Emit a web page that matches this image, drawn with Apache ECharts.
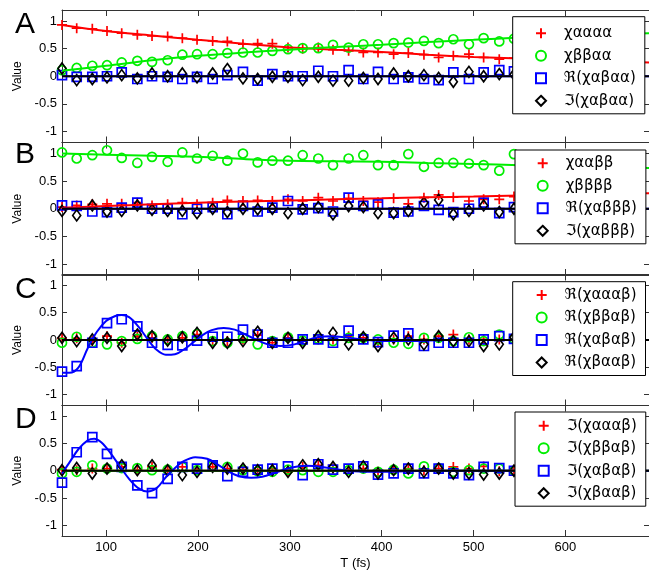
<!DOCTYPE html>
<html><head><meta charset="utf-8">
<script src="https://cdn.jsdelivr.net/npm/echarts@6/dist/echarts.min.js"></script>
<style>html,body{margin:0;padding:0;background:#fff}#c{width:649px;height:571px}</style>
</head><body><div id="c"></div>
<script>
// Time points (fs)
const T = [52, 68, 85, 101, 117, 134, 150, 167, 183, 199, 216, 232, 249, 265, 281, 298, 314, 331, 347, 364, 380, 396, 413, 429, 446, 462, 478, 495, 511, 528, 544];
const xTicks = [100, 200, 300, 400, 500, 600];
const yTicks = [-1, -0.5, 0, 0.5, 1];
const panelLetters = ['A', 'B', 'C', 'D'];

// Panel A
const namesA = ['χαααα', 'χββαα', 'ℜ(χαβαα)', 'ℑ(χαβαα)'];
const aRed   = [0.93,0.87,0.86,0.82,0.78,0.75,0.73,0.72,0.69,0.66,0.64,0.63,0.58,0.59,0.59,0.52,0.50,0.52,0.48,0.46,0.43,0.43,0.40,0.42,0.39,0.34,0.37,0.40,0.34,0.31,0.33];
const aGreen = [0.11,0.15,0.19,0.20,0.25,0.28,0.26,0.29,0.39,0.40,0.40,0.42,0.43,0.43,0.46,0.49,0.51,0.51,0.57,0.52,0.58,0.58,0.60,0.61,0.64,0.60,0.67,0.58,0.69,0.63,0.68];
const aBlue  = [0.02,-0.01,-0.01,0.00,0.07,-0.05,0.00,-0.01,-0.05,-0.01,-0.05,0.02,0.08,-0.08,0.04,0.00,0.00,0.10,0.00,0.11,-0.05,0.08,-0.05,-0.02,-0.05,-0.07,0.07,-0.05,0.07,0.11,0.09];
const aBlack = [0.14,-0.07,-0.05,-0.02,0.02,-0.04,0.05,0.00,0.05,-0.02,0.05,0.13,-0.04,-0.05,-0.01,-0.01,-0.07,-0.01,-0.08,-0.08,-0.03,-0.05,0.05,0.00,0.02,-0.03,-0.10,0.08,0.00,0.04,0.03];

// Panel B
const namesB = ['χααββ', 'χββββ', 'ℜ(χαβββ)', 'ℑ(χαβββ)'];
const bRed   = [0.03,0.06,0.08,0.09,0.09,0.11,0.06,0.08,0.11,0.08,0.11,0.15,0.14,0.15,0.14,0.17,0.14,0.20,0.14,0.19,0.14,0.12,0.19,0.09,0.20,0.25,0.21,0.14,0.17,0.17,0.22];
const bGreen = [1.02,0.91,0.97,1.06,0.92,0.83,0.94,0.85,1.02,0.91,0.96,0.87,1.00,0.84,0.87,0.87,0.97,0.91,0.79,0.91,0.97,0.79,0.79,0.99,0.76,0.83,0.83,0.82,0.79,0.69,0.99];
const bBlue  = [0.06,0.05,-0.05,-0.06,0.02,0.11,0.00,0.00,-0.10,0.00,0.03,-0.10,0.05,-0.05,0.02,0.14,-0.01,0.01,-0.05,0.20,0.05,0.08,-0.07,-0.05,0.05,-0.02,-0.06,0.00,0.11,-0.08,0.03];
const bBlack = [-0.04,-0.12,0.06,-0.05,-0.04,0.06,-0.02,-0.04,-0.04,-0.08,0.00,-0.06,0.00,-0.01,0.00,-0.08,0.00,0.03,-0.10,0.05,0.03,-0.08,-0.08,-0.04,0.11,0.16,-0.10,-0.04,0.06,-0.06,0.00];

// Panel C
const namesC = ['ℜ(χαααβ)', 'ℜ(χββαβ)', 'ℜ(χαβαβ)', 'ℜ(χβααβ)'];
const cRed   = [0.03,0.03,-0.02,0.07,-0.05,0.07,0.04,0.01,0.04,0.10,-0.02,-0.02,0.01,0.09,-0.05,0.04,-0.02,0.01,0.01,0.07,0.04,-0.05,0.01,0.07,0.01,0.07,0.10,0.01,0.01,0.01,0.00];
const cGreen = [-0.05,0.06,-0.05,-0.08,-0.02,0.02,0.07,0.01,0.07,0.11,-0.02,-0.05,0.04,-0.08,-0.02,0.05,-0.01,0.02,-0.02,0.04,0.04,0.01,-0.05,-0.07,0.04,0.04,-0.02,0.05,-0.02,0.10,0.02];
const cBlue  = [-0.58,-0.48,-0.05,0.31,0.38,0.25,-0.05,-0.09,-0.10,-0.01,0.06,0.06,0.19,0.10,-0.05,-0.05,0.01,0.01,-0.05,0.17,0.01,-0.04,0.08,0.12,-0.11,-0.05,-0.05,-0.05,0.01,0.07,0.02];
const cBlack = [0.04,-0.02,0.01,0.04,-0.11,0.10,0.07,-0.01,0.05,0.13,-0.05,-0.05,-0.02,0.15,-0.05,0.04,-0.05,0.07,0.13,-0.08,0.05,-0.11,0.04,0.01,-0.08,0.07,-0.02,-0.02,-0.11,-0.08,0.05];

// Panel D
const namesD = ['ℑ(χαααβ)', 'ℑ(χββαβ)', 'ℑ(χαβαβ)', 'ℑ(χβααβ)'];
const dRed   = [0.02,0.01,0.04,0.04,0.07,0.01,0.07,0.02,0.07,0.02,0.07,0.04,0.02,0.01,0.04,-0.02,0.07,0.10,0.04,0.02,0.04,-0.02,0.02,0.04,0.01,0.04,0.07,0.04,0.08,-0.01,0.02];
const dGreen = [-0.05,-0.02,0.10,0.04,0.05,0.05,0.01,0.02,0.07,0.01,0.10,0.07,0.01,-0.01,-0.02,0.02,0.01,-0.02,-0.02,0.01,0.04,-0.02,0.02,-0.05,0.08,0.05,-0.02,0.01,0.04,0.04,0.00];
const dBlue  = [-0.22,0.34,0.62,0.31,0.07,-0.27,-0.41,-0.15,0.07,0.04,0.10,-0.10,-0.02,0.02,0.04,0.08,-0.08,0.12,0.02,0.04,0.08,-0.07,-0.05,0.04,-0.05,0.04,-0.05,-0.08,0.07,0.05,0.00];
const dBlack = [0.01,0.05,-0.05,0.04,0.10,0.01,0.10,0.01,-0.08,-0.02,0.07,0.04,0.04,0.01,0.01,-0.02,0.10,0.12,0.07,-0.02,0.08,-0.05,0.01,0.04,-0.02,0.04,-0.05,-0.05,-0.07,-0.05,0.00];

// Fitted curves
const fitT = [52, 100, 150, 200, 250, 300, 350, 400, 450, 500, 550, 600, 650, 691];
const aRedFit   = [0.93,0.82,0.74,0.66,0.59,0.52,0.48,0.44,0.39,0.35,0.32,0.29,0.27,0.25];
const aGreenFit = [0.10,0.19,0.29,0.37,0.43,0.48,0.53,0.57,0.62,0.66,0.70,0.73,0.76,0.78];
const bRedFit   = [0.02,0.05,0.08,0.11,0.13,0.15,0.17,0.19,0.21,0.22,0.24,0.25,0.27,0.28];
const bGreenFit = [1.00,0.98,0.96,0.94,0.90,0.87,0.86,0.85,0.83,0.81,0.79,0.77,0.75,0.74];
const zeroT = [52, 691];
const zeroV = [0, 0];
const cBlueFitT = [52,60,70,80,90,100,110,117,125,135,145,155,165,175,185,195,205,215,228,240,252,264,276,290,305,318,330,345,360,380,400,430,470,550,691];
const cBlueFit  = [-0.60,-0.60,-0.50,-0.15,0.15,0.35,0.44,0.46,0.42,0.25,0.02,-0.18,-0.27,-0.26,-0.17,-0.04,0.09,0.18,0.22,0.19,0.10,0.00,-0.08,-0.11,-0.08,-0.01,0.05,0.07,0.05,0.01,-0.02,-0.02,0.00,0.00,0.00];
const dBlueFitT = [52,60,70,80,87,95,105,115,125,135,145,155,165,175,185,197,210,222,233,245,258,270,285,300,318,335,350,370,400,450,691];
const dBlueFit  = [-0.05,0.15,0.40,0.56,0.59,0.52,0.32,0.08,-0.15,-0.32,-0.38,-0.32,-0.12,0.05,0.18,0.25,0.22,0.11,-0.01,-0.10,-0.13,-0.11,-0.03,0.05,0.09,0.07,0.03,-0.01,-0.02,0.00,0.00];

const COLORS = ['#ff0000', '#00ee00', '#0000ff', '#000000'];
const SYMBOLS = ['path://M5,0L5,10M0,5L10,5', 'circle', 'rect', 'diamond'];
const SIZES = [10, 9, 9, [8, 11]];

const panels = [
  { names: namesA, pts: [aRed, aGreen, aBlue, aBlack], fits: [[fitT, aRedFit], [fitT, aGreenFit], [zeroT, zeroV], [zeroT, zeroV]] },
  { names: namesB, pts: [bRed, bGreen, bBlue, bBlack], fits: [[fitT, bRedFit], [fitT, bGreenFit], [zeroT, zeroV], [zeroT, zeroV]] },
  { names: namesC, pts: [cRed, cGreen, cBlue, cBlack], fits: [[zeroT, zeroV], [zeroT, zeroV], [cBlueFitT, cBlueFit], [zeroT, zeroV]] },
  { names: namesD, pts: [dRed, dGreen, dBlue, dBlack], fits: [[zeroT, zeroV], [zeroT, zeroV], [dBlueFitT, dBlueFit], [zeroT, zeroV]] }
];

const gridTops = [10, 142.5, 274.5, 405.5];
const gridHeights = [132.5, 132.5, 131, 132.5];
const legendBox = [
  { left: 512.7, top: 16.7, pt: 8.6, pl: 22.3 },
  { left: 515, top: 150, pt: 5.3, pl: 21.7 },
  { left: 512.7, top: 281.7, pt: 5.3, pl: 23 },
  { left: 515, top: 412, pt: 5.7, pl: 22.7 }
];
const titleTops = [5, 135, 270, 400];

const FONT = 'Liberation Sans';
const AX = '#333';
const grid = [], xAxis = [], yAxis = [], series = [], legend = [], title = [];

panels.forEach((p, i) => {
  grid.push({ left: 62, right: -2, top: gridTops[i], height: gridHeights[i] });
  const common = {
    type: 'value', gridIndex: i, min: 52, max: 691,
    axisLine: { show: true, onZero: false, lineStyle: { color: AX, width: 1 } },
    axisTick: { show: true, inside: true, length: 6, customValues: xTicks, lineStyle: { color: AX } },
    splitLine: { show: false }
  };
  xAxis.push(Object.assign({}, common, {
    position: 'bottom',
    axisLabel: { show: i === 3, customValues: xTicks, color: '#000', fontSize: 13, fontFamily: FONT, margin: 5 },
    name: i === 3 ? 'T (fs)' : '', nameLocation: 'middle', nameGap: 21,
    nameTextStyle: { color: '#000', fontSize: 13, fontFamily: FONT }
  }));
  xAxis.push(Object.assign({}, common, { position: 'top', axisLabel: { show: false } }));
  const ycommon = {
    type: 'value', gridIndex: i, min: -1.2, max: 1.2,
    axisLine: { show: true, onZero: false, lineStyle: { color: AX, width: 1 } },
    axisTick: { show: true, inside: true, length: 5, customValues: yTicks, lineStyle: { color: AX } },
    splitLine: { show: false }
  };
  yAxis.push(Object.assign({}, ycommon, {
    position: 'left',
    axisLabel: { show: true, customValues: yTicks, color: '#000', fontSize: 13, fontFamily: FONT, margin: 5 },
    name: 'Value', nameLocation: 'middle', nameGap: 37,
    nameTextStyle: { color: '#000', fontSize: 12, fontFamily: FONT }
  }));
  yAxis.push(Object.assign({}, ycommon, { position: 'right', axisLabel: { show: false } }));

  p.pts.forEach((vals, s) => {
    series.push({
      type: 'scatter', name: p.names[s], xAxisIndex: 2 * i, yAxisIndex: 2 * i,
      data: T.map((t, k) => [t, vals[k]]),
      symbol: SYMBOLS[s], symbolSize: SIZES[s],
      itemStyle: { color: 'rgba(0,0,0,0)', borderColor: COLORS[s], borderWidth: 1.7, opacity: 1 },
      emphasis: { disabled: true }, z: 2 + s * 0.01
    });
  });
  p.fits.forEach((f, s) => {
    series.push({
      type: 'line', xAxisIndex: 2 * i, yAxisIndex: 2 * i,
      data: f[0].map((t, k) => [t, f[1][k]]),
      showSymbol: false, symbol: 'none', smooth: 0.35,
      lineStyle: { color: COLORS[s], width: 2 },
      emphasis: { disabled: true }, silent: true, z: 3 + s * 0.01
    });
  });

  const lb = legendBox[i];
  legend.push({
    orient: 'vertical', left: lb.left, top: lb.top,
    padding: [lb.pt, 9, 5, lb.pl],
    backgroundColor: '#fff', borderColor: '#000', borderWidth: 1,
    itemWidth: 10, itemHeight: 10, itemGap: 6.5,
    selectedMode: false,
    data: p.names,
    textStyle: { fontFamily: 'DejaVu Sans', fontSize: 15, color: '#000', lineHeight: 16, padding: [0, 0, 0, 13] }
  });
  title.push({
    text: panelLetters[i], left: 10, top: titleTops[i],
    textStyle: { fontFamily: FONT, fontSize: 30, fontWeight: 'normal', color: '#000' }
  });
});

const chart = echarts.init(document.getElementById('c'), null, { renderer: 'canvas' });
chart.setOption({ animation: false, backgroundColor: '#fff', title, grid, xAxis, yAxis, legend, series });
</script>
</body></html>
